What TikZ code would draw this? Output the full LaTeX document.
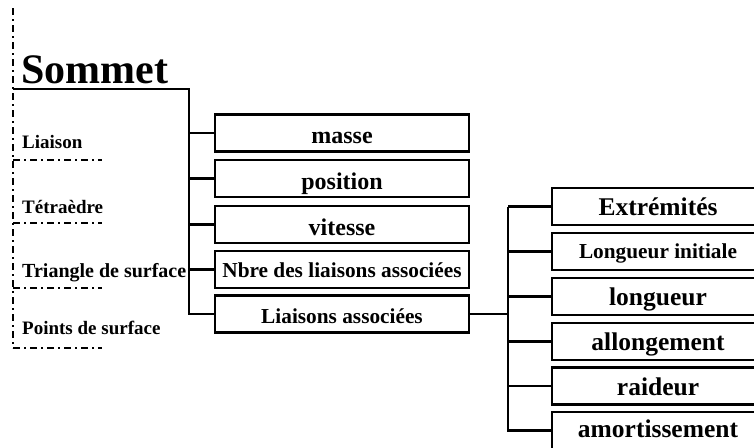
\documentclass[tikz,border=0pt]{standalone}
\usepackage{fontspec}
\setmainfont{Liberation Serif}
\begin{document}
\begin{tikzpicture}[x=1pt,y=-1pt,
  ln/.style={line width=2.5pt},
  dd/.style={line width=1.8pt,dash pattern=on 7pt off 4pt on 2pt off 4pt},
  boxa/.style={draw,line width=2.5pt,minimum width=254pt,minimum height=37pt,inner sep=0pt,text height=21pt,text depth=0pt,font=\bfseries\fontsize{24}{24}\selectfont},
  boxb/.style={draw,line width=2.5pt,minimum width=212pt,minimum height=37pt,inner sep=0pt,text height=18pt,text depth=0pt,font=\bfseries\fontsize{25.5}{25.5}\selectfont},
  small/.style={text height=16pt,text depth=0pt,font=\bfseries\fontsize{21.3}{21.3}\selectfont},
  lab/.style={anchor=base west,inner sep=0pt,font=\bfseries\fontsize{19}{19}\selectfont}]
\useasboundingbox (0,0) rectangle (754,447);
\clip (0,0) rectangle (754,447);
% dash-dot frame
\draw[dd] (13,8) -- (13,348);
\draw[dd] (13,160) -- (102,160);
\draw[dd] (13,223) -- (102,223);
\draw[dd] (13,288) -- (102,288);
\draw[dd] (13,348) -- (102,348);
% title and left labels
\node[anchor=base west,inner sep=0pt,font=\bfseries\fontsize{42}{42}\selectfont] (sommet) at (21,83) {Sommet};
\node[lab] (liaison) at (22,148) {Liaison};
\node[lab] (tetra) at (22,213) {Tétraèdre};
\node[lab,font=\bfseries\fontsize{20}{20}\selectfont] (tri) at (22,277) {Triangle de surface};
\node[lab] (points) at (22,334) {Points de surface};
% first column
\node[boxa] (masse) at (342,133) {masse};
\node[boxa] (position) at (342,178.5) {position};
\node[boxa] (vitesse) at (342,224.5) {vitesse};
\node[boxa,small] (nbre) at (342,269.5) {Nbre des liaisons associées};
\node[boxa,small,text height=19pt] (liais) at (342,314) {Liaisons associées};
% second column
\node[boxb] (ext) at (658,206.5) {Extrémités};
\node[boxb,small,text height=14pt] (linit) at (658,251.5) {Longueur initiale};
\node[boxb] (long) at (658,296.5) {longueur};
\node[boxb] (allong) at (658,341.5) {allongement};
\node[boxb] (raid) at (658,386) {raideur};
\node[boxb,text height=14pt] (amort) at (658,430.5) {amortissement};
% connectors
\coordinate (s0) at (13,89);
\coordinate (t1) at (189,89);
\coordinate (t2) at (508,0);
\draw[ln] (s0) -- (t1) -- (t1 |- liais.west) -- (liais.west);
\foreach \n in {masse,position,vitesse,nbre}
  \draw[ln] (t1 |- \n.west) -- (\n.west);
\draw[ln] (liais.east) -- (t2 |- liais.east);
\draw[ln] (t2 |- ext.west) -- (t2 |- amort.west) -- (amort.west);
\foreach \n in {ext,linit,long,allong,raid}
  \draw[ln] (t2 |- \n.west) -- (\n.west);
\end{tikzpicture}
\end{document}
